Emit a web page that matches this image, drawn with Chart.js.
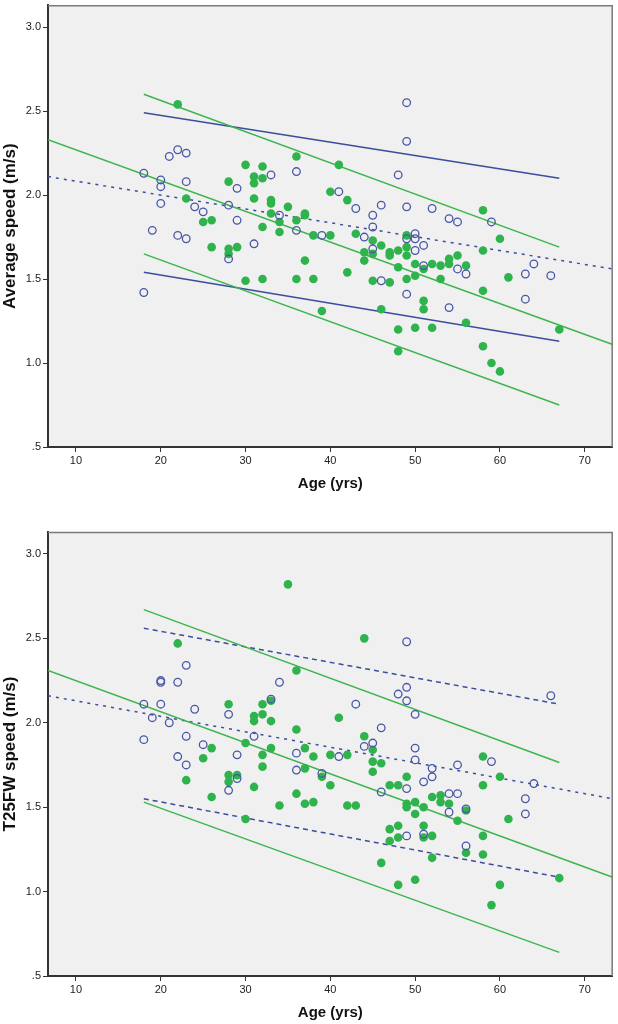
<!DOCTYPE html>
<html>
<head>
<meta charset="utf-8">
<script src="https://cdn.jsdelivr.net/npm/chart.js@4"></script>
<style>
  body { margin: 0; background: #fff; }
  canvas { position: absolute; left: 0; }
  #top { top: 0; }
  #bottom { top: 495px; }
</style>
</head>
<body>
<canvas id="top" width="618" height="495"></canvas>
<canvas id="bottom" width="618" height="529"></canvas>
<script>
// axes
const ageTicks = [10, 20, 30, 40, 50, 60, 70];
const speedTicks = [0.5, 1.0, 1.5, 2.0, 2.5, 3.0];

// top panel: average speed, [age, speed]
const avgOpen = [[18,2.13],[18,1.42],[19,1.79],[20,2.09],[20,2.05],[20,1.95],[21,2.23],[22,2.27],[22,1.76],
  [23,2.25],[23,2.08],[23,1.74],[24,1.93],[25,1.90],[28,1.94],[28,1.62],[29,2.04],[29,1.85],[31,1.71],
  [33,2.12],[34,1.88],[36,2.14],[36,1.79],[39,1.76],[41,2.02],[43,1.92],[44,1.75],[45,1.88],[45,1.81],
  [45,1.68],[46,1.94],[46,1.49],[48,2.12],[49,2.55],[49,2.32],[49,1.93],[49,1.74],[49,1.41],[50,1.77],
  [50,1.74],[50,1.67],[51,1.70],[51,1.58],[52,1.92],[54,1.86],[54,1.33],[55,1.84],[55,1.56],[56,1.53],
  [59,1.84],[63,1.53],[63,1.38],[64,1.59],[66,1.52]];
const avgFilled = [[22,2.54],[23,1.98],[25,1.84],[26,1.85],[26,1.69],[28,2.08],[28,1.68],[28,1.65],[29,1.69],
  [30,2.18],[30,1.49],[31,2.11],[31,2.07],[31,1.98],[32,2.17],[32,2.10],[32,1.81],[32,1.50],[33,1.97],
  [33,1.95],[33,1.89],[34,1.84],[34,1.78],[35,1.93],[36,2.23],[36,1.85],[36,1.50],[37,1.89],[37,1.88],
  [37,1.61],[38,1.76],[38,1.50],[39,1.31],[40,2.02],[40,1.76],[41,2.18],[42,1.97],[42,1.54],[43,1.77],
  [44,1.66],[44,1.61],[45,1.73],[45,1.65],[45,1.49],[46,1.70],[46,1.32],[47,1.66],[47,1.64],[47,1.48],
  [48,1.67],[48,1.57],[48,1.20],[48,1.07],[49,1.76],[49,1.69],[49,1.64],[49,1.50],[50,1.59],[50,1.52],
  [50,1.21],[51,1.56],[51,1.37],[51,1.32],[52,1.59],[52,1.21],[53,1.58],[53,1.50],[54,1.62],[54,1.59],
  [55,1.64],[56,1.58],[56,1.24],[58,1.91],[58,1.67],[58,1.43],[58,1.10],[59,1.00],[60,1.74],[60,0.95],
  [61,1.51],[67,1.20]];
// fit lines and bands, [age, speed] end points
const avgGreenFit = [[6.7,2.33],[73.3,1.11]];
const avgGreenHi = [[18,2.60],[67,1.69]];
const avgGreenLo = [[18,1.65],[67,0.75]];
const avgBlueFit = [[6.7,2.11],[73.3,1.56]];
const avgBlueHi = [[18,2.49],[67,2.10]];
const avgBlueLo = [[18,1.54],[67,1.13]];

// bottom panel: T25FW speed
const t25Open = [[18,2.11],[18,1.90],[19,2.03],[20,2.24],[20,2.25],[20,2.11],[21,2.00],[22,2.24],[22,1.80],
  [23,2.34],[23,1.92],[23,1.75],[24,2.08],[25,1.87],[28,2.05],[28,1.60],[29,1.81],[29,1.67],[31,1.92],
  [33,2.14],[34,2.24],[36,1.82],[36,1.72],[39,1.70],[41,1.80],[43,2.11],[44,1.86],[45,1.88],[46,1.97],
  [46,1.59],[48,2.17],[49,2.48],[49,2.21],[49,2.13],[49,1.61],[49,1.33],[50,2.05],[50,1.85],[50,1.78],
  [51,1.65],[51,1.34],[52,1.73],[52,1.68],[54,1.58],[54,1.47],[55,1.75],[55,1.58],[56,1.49],[56,1.27],
  [59,1.77],[63,1.55],[63,1.46],[64,1.64],[66,2.16]];
const t25Filled = [[22,2.47],[23,1.66],[25,1.79],[26,1.85],[26,1.56],[28,2.11],[28,1.69],[28,1.65],[29,1.69],
  [30,1.88],[30,1.43],[31,2.04],[31,2.01],[31,1.62],[32,2.11],[32,2.05],[32,1.81],[32,1.74],[33,2.13],
  [33,2.01],[33,1.85],[34,1.51],[35,2.82],[36,2.31],[36,1.96],[36,1.58],[37,1.85],[37,1.73],[37,1.52],
  [38,1.80],[38,1.53],[39,1.68],[40,1.81],[40,1.63],[41,2.03],[42,1.81],[42,1.51],[43,1.51],[44,2.50],
  [44,1.92],[45,1.84],[45,1.77],[45,1.71],[46,1.76],[46,1.17],[47,1.63],[47,1.37],[47,1.30],[48,1.63],
  [48,1.39],[48,1.32],[48,1.04],[49,1.68],[49,1.52],[49,1.50],[50,1.53],[50,1.46],[50,1.07],[51,1.50],
  [51,1.39],[51,1.32],[52,1.56],[52,1.33],[52,1.20],[53,1.57],[53,1.53],[54,1.52],[55,1.42],[56,1.48],
  [56,1.23],[58,1.80],[58,1.63],[58,1.33],[58,1.22],[59,0.92],[60,1.68],[60,1.04],[61,1.43],[67,1.08]];
const t25GreenFit = [[6.7,2.31],[73.3,1.085]];
const t25GreenHi = [[18,2.67],[67,1.765]];
const t25GreenLo = [[18,1.53],[67,0.64]];
const t25BlueFit = [[6.7,2.16],[73.3,1.55]];
const t25BlueHi = [[18,2.56],[67,2.11]];
const t25BlueLo = [[18,1.55],[67,1.085]];

const GREEN = '#2fb34c';
const GREEN_LINE = '#3cb54e';
const BLUE = '#4856a6';
const BLUE_LINE = '#3b4d9c';
const FONT = "'Liberation Sans', Arial, sans-serif";

const pts = arr => arr.map(p => ({ x: p[0], y: p[1] }));

function lineSet(arr, color, dash) {
  return {
    type: 'line', data: pts(arr), borderColor: color, borderWidth: 1.5,
    borderDash: dash || [], pointRadius: 0, fill: false, tension: 0, order: 2
  };
}

// plot background and grey top/right frame
const frame = {
  id: 'frame',
  beforeDraw(c) {
    const a = c.chartArea, x = c.ctx;
    x.save();
    x.fillStyle = '#f0f0f0';
    x.fillRect(a.left, a.top, a.right - a.left, a.bottom - a.top);
    x.restore();
  },
  afterDraw(c) {
    const a = c.chartArea, x = c.ctx;
    x.save();
    x.strokeStyle = '#7a7a7a';
    x.lineWidth = 1.5;
    x.beginPath();
    x.moveTo(a.left, a.top + 0.5);
    x.lineTo(a.right - 0.5, a.top + 0.5);
    x.lineTo(a.right - 0.5, a.bottom);
    x.stroke();
    x.restore();
  }
};

function makeChart(id, yTitle, open, filled, lines, padTop) {
  new Chart(document.getElementById(id), {
    type: 'scatter',
    data: {
      datasets: [
        ...lines,
        { data: pts(filled), backgroundColor: GREEN, borderColor: GREEN, pointRadius: 4.3, borderWidth: 0, order: 1 },
        { data: pts(open), backgroundColor: 'rgba(0,0,0,0)', borderColor: BLUE, pointRadius: 3.8, borderWidth: 1.3, order: 0 }
      ]
    },
    options: {
      responsive: false,
      animation: false,
      layout: { padding: { top: padTop, right: 4, left: 0, bottom: 0 } },
      plugins: { legend: { display: false }, tooltip: { enabled: false } },
      scales: {
        x: {
          type: 'linear', min: 6.7, max: 73.3,
          afterBuildTicks: s => { s.ticks = ageTicks.map(v => ({ value: v })); },
          afterFit: s => { s.height = 48; s.paddingLeft = 0; s.paddingRight = 0; },
          grid: { drawOnChartArea: false, drawTicks: true, tickLength: 5, color: '#333' },
          border: { color: '#333', width: 2 },
          ticks: { color: '#222', font: { family: FONT, size: 11 }, padding: 2, maxRotation: 0 },
          title: { display: true, text: 'Age (yrs)', color: '#111', font: { family: FONT, size: 15, weight: 'bold' }, padding: { top: 0, bottom: 2 } }
        },
        y: {
          type: 'linear', min: 0.5, max: 3.13,
          afterBuildTicks: s => { s.ticks = speedTicks.map(v => ({ value: v })); },
          afterFit: s => { s.width = 48; s.paddingTop = 0; s.paddingBottom = 0; },
          grid: { drawOnChartArea: false, drawTicks: true, tickLength: 5, color: '#333' },
          border: { color: '#333', width: 2 },
          ticks: {
            color: '#222', font: { family: FONT, size: 11 }, padding: 2,
            callback: v => v === 0.5 ? '.5' : v.toFixed(1)
          },
          title: { display: true, text: yTitle, color: '#111', font: { family: FONT, size: 17, weight: 'bold' }, padding: { top: 0, bottom: 0 } }
        }
      }
    },
    plugins: [frame]
  });
}

makeChart('top', 'Average speed (m/s)', avgOpen, avgFilled, [
  lineSet(avgGreenFit, GREEN_LINE), lineSet(avgGreenHi, GREEN_LINE), lineSet(avgGreenLo, GREEN_LINE),
  lineSet(avgBlueFit, BLUE_LINE, [3, 5]), lineSet(avgBlueHi, BLUE_LINE), lineSet(avgBlueLo, BLUE_LINE)
], 0);

makeChart('bottom', 'T25FW speed (m/s)', t25Open, t25Filled, [
  lineSet(t25GreenFit, GREEN_LINE), lineSet(t25GreenHi, GREEN_LINE), lineSet(t25GreenLo, GREEN_LINE),
  lineSet(t25BlueFit, BLUE_LINE, [3, 5]), lineSet(t25BlueHi, BLUE_LINE, [5, 4]), lineSet(t25BlueLo, BLUE_LINE, [5, 4])
], 37);
</script>
</body>
</html>
